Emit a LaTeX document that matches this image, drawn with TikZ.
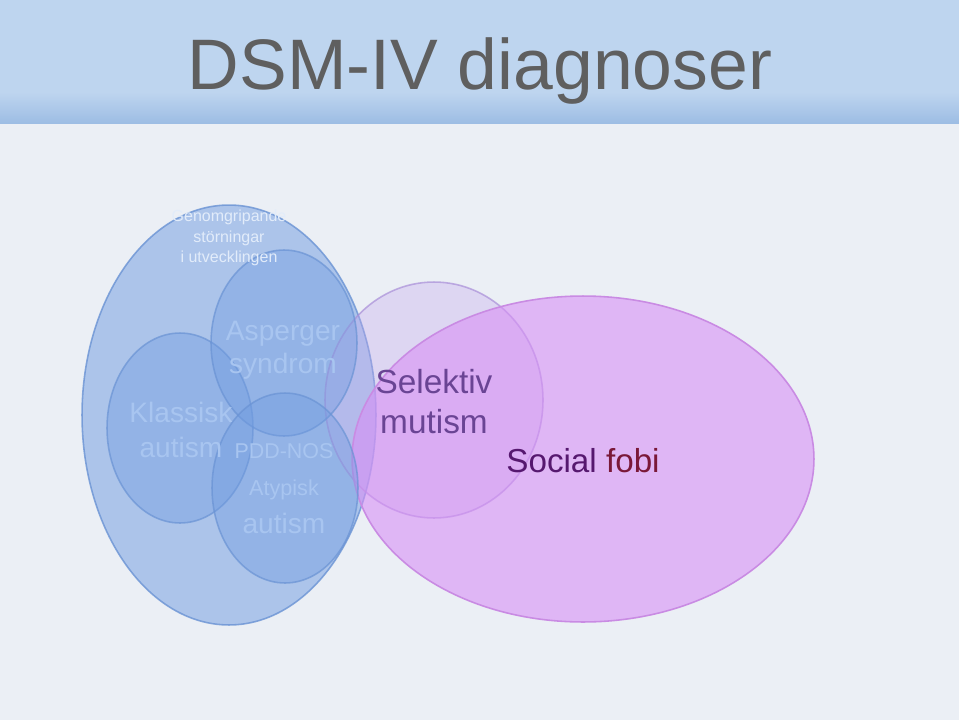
\documentclass[tikz,border=0pt]{standalone}
\usepackage{fontspec}
\setmainfont{Liberation Sans}
\usepackage{xcolor}
\usetikzlibrary{shapes.geometric}
\definecolor{paper}{HTML}{EBEFF5}
\definecolor{header}{HTML}{BED5EF}
\definecolor{headerdark}{HTML}{9DBDE4}
\definecolor{titlegray}{HTML}{5F5F5F}
\definecolor{pddblue}{HTML}{6F9BE0}
\definecolor{pddline}{HTML}{6A93D4}
\definecolor{pddtext}{HTML}{A8C5F0}
\definecolor{pddwhite}{HTML}{E2ECFA}
\definecolor{fobifill}{HTML}{D890F5}
\definecolor{fobiline}{HTML}{C98BE3}
\definecolor{mutismfill}{HTML}{C4A8EE}
\definecolor{mutismline}{HTML}{A98FD8}
\definecolor{mutismtext}{HTML}{6A4494}
\definecolor{socialtext}{HTML}{56186F}
\definecolor{fobitext}{HTML}{7A1838}
\tikzstyle{group}=[ellipse, inner sep=0pt, fill=pddblue, fill opacity=0.5, draw=pddline, draw opacity=0.8, line width=0.9pt]
\tikzstyle{diagnosis}=[ellipse, inner sep=0pt, fill=pddblue, fill opacity=0.4, draw=pddline, draw opacity=0.7, line width=0.9pt]
\tikzstyle{phobia}=[ellipse, inner sep=0pt, fill=fobifill, fill opacity=0.6, draw=fobiline, line width=0.9pt]
\tikzstyle{mutism}=[ellipse, inner sep=0pt, fill=mutismfill, fill opacity=0.35, draw=mutismline, draw opacity=0.7, line width=0.9pt]
\tikzstyle{inlabel}=[text=pddtext, align=center, inner sep=0pt]

\begin{document}
\begin{tikzpicture}[x=0.02cm, y=-0.02cm]
    \useasboundingbox (0,0) rectangle (959,720);
    \fill[paper] (0,0) rectangle (959,720);
    \fill[header] (0,0) rectangle (959,92);
    \shade[top color=header, bottom color=headerdark] (0,92) rectangle (959,123);

    \node (title) [anchor=base, text=titlegray, font=\fontsize{40.7}{48}\selectfont] at (480,89) {DSM-IV diagnoser};

    \node[group]     (pdd)       [minimum width=5.88cm, minimum height=8.4cm]  at (229,415) {};
    \node[mutism]    (selektiv)  [minimum width=4.36cm, minimum height=4.72cm] at (434,400) {};
    \node[phobia]    (social)    [minimum width=9.24cm, minimum height=6.52cm] at (583,459) {};
    \node[diagnosis] (klassisk)  [minimum width=2.92cm, minimum height=3.8cm]  at (180,428) {};
    \node[diagnosis] (asperger)  [minimum width=2.92cm, minimum height=3.72cm] at (284,343) {};
    \node[diagnosis] (pddnos)    [minimum width=2.92cm, minimum height=3.8cm]  at (285,488) {};

    \node (pddlabel) [text=pddwhite, align=center, inner sep=0pt, font=\fontsize{9.1}{11.6}\selectfont] at (229,238) {Genomgripande\\störningar\\i utvecklingen};
    \node[inlabel] (asplabel)   [font=\fontsize{16}{19}\selectfont]   at (283,350) {Asperger\\syndrom};
    \node[inlabel] (klasslabel) [font=\fontsize{16}{20}\selectfont]   at (181,430) {Klassisk\\autism};
    \node[inlabel] (noslabel)   [font=\fontsize{12.2}{14}\selectfont] at (284,451) {PDD-NOS};
    \node[inlabel] (atyplabel)  [font=\fontsize{12.3}{14}\selectfont] at (284,490) {Atypisk};
    \node[inlabel] (autlabel)   [font=\fontsize{16}{19}\selectfont]   at (284,523) {autism};
    \node (mutlabel) [text=mutismtext, align=center, inner sep=0pt, font=\fontsize{19}{22.7}\selectfont] at (434,402) {Selektiv\\mutism};
    \node (fobilabel) [inner sep=0pt, font=\fontsize{18.9}{22}\selectfont] at (583,461) {\textcolor{socialtext}{Social} \textcolor{fobitext}{fobi}};
\end{tikzpicture}
\end{document}
